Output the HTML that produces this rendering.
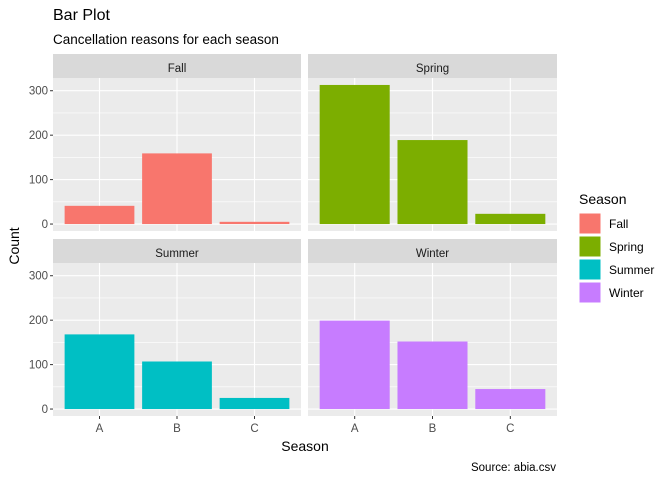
<!DOCTYPE html>
<html><head><meta charset="utf-8"><style>
body{margin:0;background:#fff}
svg text{font-family:"Liberation Sans",Arial,sans-serif}
</style></head><body>
<svg id="c" width="672" height="480" xmlns="http://www.w3.org/2000/svg">
<text x="53" y="20" font-size="16" fill="#000">Bar Plot</text>
<text x="53" y="44" font-size="13.5" fill="#000">Cancellation reasons for each season</text>
<text x="305" y="451" font-size="14" text-anchor="middle">Season</text>
<text transform="translate(19,246) rotate(-90)" font-size="14" text-anchor="middle">Count</text>
<text x="556" y="471" font-size="11.5" text-anchor="end">Source: abia.csv</text>
<g id="panels"></g>
<g id="legend">
<text x="579" y="204" font-size="14">Season</text>
</g>
</svg>
<script>
const categories = ["A","B","C"];
const seasons = ["Fall","Spring","Summer","Winter"];
const fallValues = [41, 159, 5];
const springValues = [313, 189, 23];
const summerValues = [168, 107, 25];
const winterValues = [199, 152, 45];
const yTicks = [0, 100, 200, 300];
const yMinor = [50, 150, 250];
const colors = ["#F8766D","#7CAE00","#00BFC4","#C77CFF"];
const NS = "http://www.w3.org/2000/svg";
const values = [fallValues, springValues, summerValues, winterValues];
const yMin = -15.65, yMax = 328.65;
const panels = [
 {x0:53,x1:301,y0:78,y1:231,sy0:54},
 {x0:308,x1:557,y0:78,y1:231,sy0:54},
 {x0:53,x1:301,y0:263,y1:416,sy0:239},
 {x0:308,x1:557,y0:263,y1:416,sy0:239}
];
function mk(tag, attrs, parent){const e=document.createElementNS(NS,tag);for(const k in attrs)e.setAttribute(k,attrs[k]);parent.appendChild(e);return e;}
const root = document.getElementById('panels');
seasons.forEach((s,i)=>{
  const p = panels[i];
  const g = mk('g',{},root);
  
  
  const sx = c => p.x0 + (c + 1 - 0.4) / 3.2 * (p.x1 - p.x0);
  const sy = v => p.y1 - (v - yMin) / (yMax - yMin) * (p.y1 - p.y0);
  const strip = mk('rect',{x:p.x0,y:p.sy0,width:p.x1-p.x0,height:p.y0-p.sy0,fill:'#D9D9D9'},g);
  
  
  const st = mk('text',{x:(p.x0+p.x1)/2,y:p.sy0+18,'font-size':'11.5','text-anchor':'middle',fill:'#1A1A1A'},g);
  st.textContent = s;
  
  
  const bg = mk('rect',{x:p.x0,y:p.y0,width:p.x1-p.x0,height:p.y1-p.y0,fill:'#EBEBEB'},g);
  
  
  yMinor.forEach(v=>{const l=mk('line',{x1:p.x0,x2:p.x1,y1:sy(v),y2:sy(v),stroke:'#fff','stroke-width':0.6},g);
    
    });
  yTicks.forEach(v=>{const l=mk('line',{x1:p.x0,x2:p.x1,y1:sy(v),y2:sy(v),stroke:'#fff','stroke-width':1.1},g);
    
    });
  categories.forEach((c,j)=>{const l=mk('line',{x1:sx(j),x2:sx(j),y1:p.y0,y2:p.y1,stroke:'#fff','stroke-width':1.1},g);
    
    });
  categories.forEach((c,j)=>{
    const v = values[i][j];
    const w = 0.9 / 3.2 * (p.x1 - p.x0);
    const b = mk('rect',{x:sx(j)-w/2,y:sy(v),width:w,height:sy(0)-sy(v),fill:colors[i]},g);
    
    
  });
  if (i % 2 === 0) {
    yTicks.forEach(v=>{
      const t = mk('line',{x1:p.x0-3,x2:p.x0,y1:sy(v),y2:sy(v),stroke:'#333','stroke-width':1},g);
      
      
      const tx = mk('text',{x:p.x0-5,y:sy(v)+4,'font-size':'11.5','text-anchor':'end',fill:'#4D4D4D'},g);
      tx.textContent = v;
      
      
    });
  }
  if (i >= 2) {
    categories.forEach((c,j)=>{
      const t = mk('line',{x1:sx(j),x2:sx(j),y1:p.y1,y2:p.y1+3,stroke:'#333','stroke-width':1},g);
      
      
      const tx = mk('text',{x:sx(j),y:p.y1+16,'font-size':'11.5','text-anchor':'middle',fill:'#4D4D4D'},g);
      tx.textContent = c;
      
      
    });
  }
});
const lg = document.getElementById('legend');
seasons.forEach((s,i)=>{
  const y = 213 + i * 23;
  const r = mk('rect',{x:579,y:y,width:22,height:21,fill:colors[i],stroke:'#fff','stroke-width':1},lg);
  
  
  const t = mk('text',{x:609,y:y+15,'font-size':'12','fill':'#000'},lg);
  t.textContent = s;
  
  
});
</script>
</body></html>
